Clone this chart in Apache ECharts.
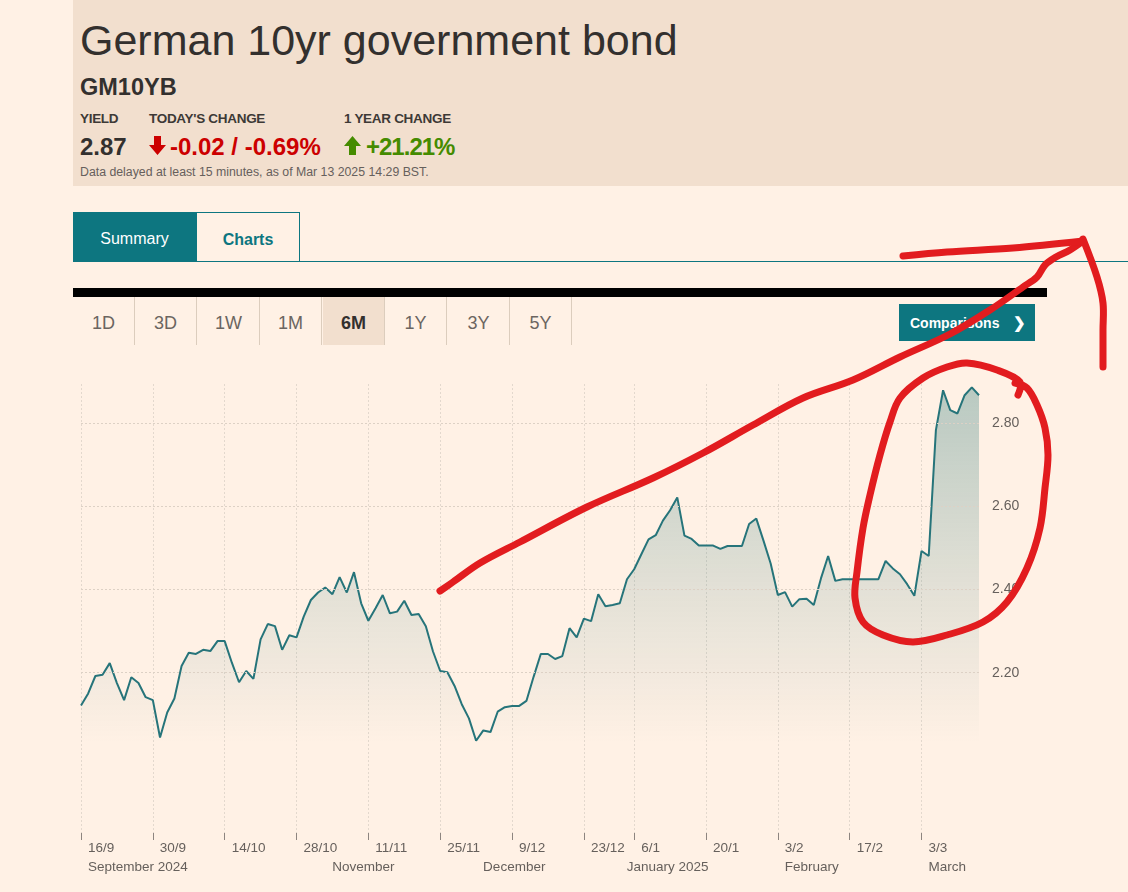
<!DOCTYPE html>
<html>
<head>
<meta charset="utf-8">
<title>German 10yr government bond</title>
<script src="https://cdn.jsdelivr.net/npm/echarts@6/dist/echarts.min.js"></script>
<style>
  html, body { margin: 0; padding: 0; }
  body {
    width: 1128px; height: 892px; overflow: hidden; position: relative;
    background: #fff1e5; font-family: "Liberation Sans", Arial, sans-serif; color: #33302e;
  }
  .abs { position: absolute; white-space: nowrap; line-height: 1; }
  #header { position: absolute; left: 73px; top: 0; width: 1055px; height: 186px; background: #f2dfce; }
  .lbl { font-size: 13.5px; font-weight: bold; letter-spacing: -0.3px; color: #3d3936; }
  .val { font-size: 24px; font-weight: bold; }
  .tab { position: absolute; top: 212px; height: 50px; box-sizing: border-box; font-size: 16px; padding-top: 4px;
         display: flex; align-items: center; justify-content: center; }
  .rng { position: absolute; top: 297px; height: 48px; width: 62px; box-sizing: border-box; padding-top: 4px;
         font-size: 18px; color: #6b6560; display: flex; align-items: center; justify-content: center;
         border-right: 1px solid #dccdbd; }
  #chart { position: absolute; left: 0; top: 0; width: 1128px; height: 892px; z-index: 5; }
</style>
</head>
<body>
<div id="header"></div>
<div class="abs" style="left:80px;top:19px;font-size:43px;">German 10yr government bond</div>
<div class="abs" style="left:80px;top:76px;font-size:23.5px;font-weight:bold;">GM10YB</div>

<div class="abs lbl" style="left:80px;top:112px;">YIELD</div>
<div class="abs lbl" style="left:149px;top:112px;">TODAY'S CHANGE</div>
<div class="abs lbl" style="left:344px;top:112px;">1 YEAR CHANGE</div>

<div class="abs val" style="left:80px;top:135px;">2.87</div>
<svg class="abs" style="left:149px;top:136px;" width="17" height="19" viewBox="0 0 17 19">
  <path d="M5 0 H12 V9 H17 L8.5 19 L0 9 H5 Z" fill="#cc0000"/>
</svg>
<div class="abs val" style="left:170px;top:135px;color:#cc0000;">-0.02 / -0.69%</div>
<svg class="abs" style="left:344px;top:136px;" width="17" height="19" viewBox="0 0 17 19">
  <path d="M5 19 H12 V10 H17 L8.5 0 L0 10 H5 Z" fill="#458b00"/>
</svg>
<div class="abs val" style="left:366px;top:135px;color:#458b00;letter-spacing:-1px;">+21.21%</div>

<div class="abs" style="left:80px;top:166px;font-size:12.3px;color:#66605c;">Data delayed at least 15 minutes, as of Mar 13 2025 14:29 BST.</div>

<div class="tab" style="left:73px;width:123px;background:#0d7680;color:#fff;">Summary</div>
<div class="tab" style="left:196px;width:104px;border:1px solid #0d7680;border-bottom:none;color:#0d7680;font-weight:bold;">Charts</div>
<div class="abs" style="left:196px;top:261px;width:932px;height:1px;background:#0d7680;"></div>

<div class="abs" style="left:73px;top:288px;width:974px;height:9px;background:#000;"></div>
<div class="rng" style="left:73px;">1D</div>
<div class="rng" style="left:135px;">3D</div>
<div class="rng" style="left:198px;">1W</div>
<div class="rng" style="left:260px;">1M</div>
<div class="rng" style="left:323px;background:#f2dfce;color:#33302e;font-weight:bold;">6M</div>
<div class="rng" style="left:385px;">1Y</div>
<div class="rng" style="left:448px;">3Y</div>
<div class="rng" style="left:510px;">5Y</div>

<div class="abs" style="left:899px;top:304px;width:136px;height:37px;background:#0d7680;color:#fff;font-size:14px;font-weight:bold;display:flex;align-items:center;">
  <span style="margin-left:11px;">Comparisons</span><span style="margin-left:14px;font-size:15px;">&#10095;</span>
</div>

<div id="chart"></div>

<script>
// trading days shown on the 6M chart
var dates = [
  '2024-09-16','2024-09-17','2024-09-18','2024-09-19','2024-09-20','2024-09-23','2024-09-24','2024-09-25','2024-09-26','2024-09-27','2024-09-30',
  '2024-10-01','2024-10-02','2024-10-03','2024-10-04','2024-10-07','2024-10-08','2024-10-09','2024-10-10','2024-10-11','2024-10-14','2024-10-15',
  '2024-10-16','2024-10-17','2024-10-18','2024-10-21','2024-10-22','2024-10-23','2024-10-24','2024-10-25','2024-10-28','2024-10-29','2024-10-30','2024-10-31',
  '2024-11-01','2024-11-04','2024-11-05','2024-11-06','2024-11-07','2024-11-08','2024-11-11','2024-11-12','2024-11-13','2024-11-14','2024-11-15',
  '2024-11-18','2024-11-19','2024-11-20','2024-11-21','2024-11-22','2024-11-25','2024-11-26','2024-11-27','2024-11-28','2024-11-29',
  '2024-12-02','2024-12-03','2024-12-04','2024-12-05','2024-12-06','2024-12-09','2024-12-10','2024-12-11','2024-12-12','2024-12-13',
  '2024-12-16','2024-12-17','2024-12-18','2024-12-19','2024-12-20','2024-12-23','2024-12-24','2024-12-27','2024-12-30','2024-12-31',
  '2025-01-02','2025-01-03','2025-01-06','2025-01-07','2025-01-08','2025-01-09','2025-01-10','2025-01-13','2025-01-14','2025-01-15','2025-01-16',
  '2025-01-17','2025-01-20','2025-01-21','2025-01-22','2025-01-23','2025-01-24','2025-01-27','2025-01-28','2025-01-29','2025-01-30','2025-01-31',
  '2025-02-03','2025-02-04','2025-02-05','2025-02-06','2025-02-07','2025-02-10','2025-02-11','2025-02-12','2025-02-13','2025-02-14',
  '2025-02-17','2025-02-18','2025-02-19','2025-02-20','2025-02-21','2025-02-24','2025-02-25','2025-02-26','2025-02-27','2025-02-28',
  '2025-03-03','2025-03-04','2025-03-05','2025-03-06','2025-03-07','2025-03-10','2025-03-11','2025-03-12','2025-03-13'
];

// yield (%)
var yields = [
  2.121, 2.150, 2.192, 2.195, 2.223, 2.175, 2.134, 2.189, 2.175, 2.141, 2.134,
  2.044, 2.104, 2.138, 2.216, 2.248, 2.245, 2.255, 2.252, 2.276, 2.276, 2.224, 2.177,
  2.204, 2.185, 2.280, 2.317, 2.312, 2.255, 2.290, 2.285, 2.335, 2.375, 2.393,
  2.405, 2.389, 2.430, 2.393, 2.442, 2.367, 2.325, 2.355, 2.387, 2.343, 2.347,
  2.373, 2.339, 2.341, 2.312, 2.251, 2.204, 2.201, 2.168, 2.124, 2.090,
  2.036, 2.061, 2.057, 2.106, 2.117, 2.120, 2.120, 2.132, 2.190, 2.245,
  2.245, 2.233, 2.240, 2.307, 2.285, 2.330, 2.324, 2.389, 2.360, 2.363,
  2.367, 2.425, 2.449, 2.485, 2.521, 2.531, 2.566, 2.591, 2.622, 2.530, 2.522,
  2.506, 2.506, 2.506, 2.498, 2.505, 2.505, 2.505, 2.558, 2.571, 2.518, 2.463,
  2.387, 2.394, 2.359, 2.377, 2.378, 2.363, 2.427, 2.481, 2.421, 2.425,
  2.425, 2.425, 2.425, 2.425, 2.425, 2.469, 2.451, 2.437, 2.413, 2.385,
  2.493, 2.481, 2.784, 2.880, 2.832, 2.824, 2.868, 2.887, 2.868
];

var tickDates = ['2024-09-16','2024-09-30','2024-10-14','2024-10-28','2024-11-11','2024-11-25','2024-12-09',
                 '2024-12-23','2025-01-06','2025-01-20','2025-02-03','2025-02-17','2025-03-03'];
var monthDates = ['2024-09-16','2024-11-01','2024-12-02','2025-01-02','2025-02-03','2025-03-03'];
var monthNames = ['September 2024','November','December','January 2025','February','March'];
var yTicks = [2.20, 2.40, 2.60, 2.80];

var chart = echarts.init(document.getElementById('chart'), null, { width: 1128, height: 892 });

function isTick(i, v) { return tickDates.indexOf(v) >= 0; }
function isMonth(i, v) { return monthDates.indexOf(v) >= 0; }

var red = '#e21c1f';
function stroke(points) {
  return {
    type: 'polyline', silent: true, z: 100,
    shape: { points: points, smooth: 0.35 },
    style: { stroke: red, lineWidth: 7, fill: 'none', lineCap: 'round', lineJoin: 'round' }
  };
}

var option = {
  backgroundColor: 'transparent',
  animation: false,
  textStyle: { fontFamily: 'Liberation Sans, Arial, sans-serif' },
  grid: { left: 81, right: 149, top: 384, bottom: 59 },
  xAxis: [{
    type: 'category',
    data: dates,
    boundaryGap: false,
    axisLine: { show: false },
    axisTick: { show: true, interval: isTick, length: 7, lineStyle: { color: '#8d8580' } },
    axisLabel: {
      interval: isTick, align: 'left', padding: [0, 0, 0, 7], margin: 8,
      fontSize: 13.5, color: '#66605c',
      formatter: function (v) {
        var p = v.split('-');
        return (+p[2]) + '/' + (+p[1]);
      }
    },
    splitLine: { show: true, interval: isTick, lineStyle: { color: '#e3d8cd', type: [2, 2], width: 1 } }
  }, {
    type: 'category',
    data: dates,
    boundaryGap: false,
    position: 'bottom',
    axisLine: { show: false },
    axisTick: { show: false },
    splitLine: { show: false },
    axisLabel: {
      interval: isMonth, align: 'left', padding: [0, 0, 0, 7], margin: 27,
      fontSize: 13.5, color: '#66605c',
      formatter: function (v) { return monthNames[monthDates.indexOf(v)]; }
    }
  }],
  yAxis: {
    type: 'value',
    position: 'right',
    min: 1.814,
    max: 2.895,
    axisLine: { show: false },
    axisTick: { show: false },
    axisLabel: { show: false },
    splitLine: { show: false }
  },
  series: [{
    type: 'line',
    data: yields,
    symbol: 'none',
    lineStyle: { color: '#26747a', width: 2 },
    areaStyle: {
      color: new echarts.graphic.LinearGradient(0, 0, 0, 1, [
        { offset: 0, color: 'rgba(16,106,108,0.42)' },
        { offset: 0.45, color: 'rgba(16,106,108,0.17)' },
        { offset: 0.8, color: 'rgba(16,106,108,0)' },
        { offset: 1, color: 'rgba(16,106,108,0)' }
      ])
    },
    markLine: {
      silent: true,
      symbol: ['none', 'none'],
      lineStyle: { color: '#ddd1c5', type: [2, 2], width: 1 },
      label: {
        position: 'end', distance: 13, color: '#66605c', fontSize: 14,
        formatter: function (p) { return p.value.toFixed(2); }
      },
      data: yTicks.map(function (v) { return { yAxis: v }; })
    }
  }],
  graphic: [
    // hand-drawn arrow
    stroke([[440, 591], [453, 582], [480, 563], [520, 542], [587, 507], [653, 478], [703, 453], [753, 425],
            [803, 398], [853, 380], [900, 357], [950, 334], [990, 310], [1023, 287], [1037, 277], [1045, 265],
            [1056, 257], [1070, 250], [1083, 241]]),
    stroke([[903, 256], [947, 252], [1013, 248], [1083, 241]]),
    stroke([[1083, 239], [1097, 277], [1103, 303], [1103, 330], [1103, 367]]),
    // circle round the March jump
    stroke([[1018, 395], [1020, 382], [997, 370], [967, 363], [947, 367], [923, 378], [900, 398], [890, 422],
            [880, 455], [870, 495], [863, 528], [857, 572], [855, 598], [863, 622], [883, 635], [913, 642],
            [947, 635], [983, 622], [1007, 602], [1027, 568], [1040, 528], [1045, 488], [1048, 455],
            [1045, 428], [1037, 405], [1027, 388], [1015, 383]])
  ]
};

chart.setOption(option);
</script>
</body>
</html>
